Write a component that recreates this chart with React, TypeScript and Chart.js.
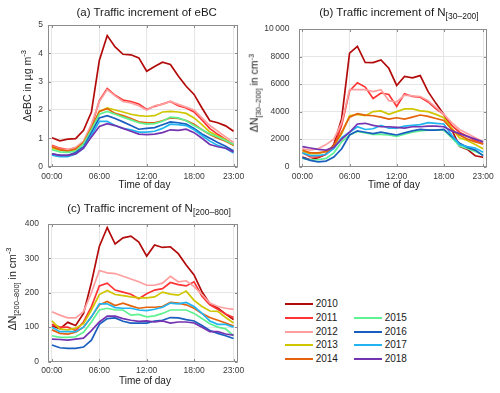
import React, { useEffect, useRef } from "react";
import { Chart, registerables } from "chart.js";

Chart.register(...registerables);

// ---------- data ----------
const HOURS = [0, 1, 2, 3, 4, 5, 6, 7, 8, 9, 10, 11, 12, 13, 14, 15, 16, 17, 18, 19, 20, 21, 22, 23];
const X_TICKS = [0, 6, 12, 18, 23];
const YEARS = ["2010", "2011", "2012", "2013", "2014", "2015", "2016", "2017", "2018"];
const COLORS = ["#b30a0a", "#ff3333", "#ff9e9e", "#cfc600", "#e4630c", "#5ef291", "#1a5fbf", "#22b4f0", "#7433b0"];

// (a) eBC, µg m-3
const EBC_2010 = [1.02, 0.91, 0.97, 0.99, 1.28, 1.93, 3.75, 4.63, 4.23, 3.97, 3.95, 3.84, 3.37, 3.54, 3.69, 3.61, 3.2, 2.84, 2.55, 2.07, 1.62, 1.55, 1.44, 1.25];
const EBC_2011 = [0.75, 0.65, 0.6, 0.65, 0.85, 1.4, 2.33, 2.76, 2.52, 2.35, 2.3, 2.21, 2.02, 2.13, 2.21, 2.3, 2.15, 2.07, 1.93, 1.65, 1.34, 1.14, 0.96, 0.77];
const EBC_2012 = [0.72, 0.62, 0.6, 0.68, 0.9, 1.5, 2.3, 2.72, 2.5, 2.3, 2.25, 2.15, 2.0, 2.15, 2.2, 2.3, 2.2, 2.1, 2.0, 1.72, 1.45, 1.25, 1.05, 0.85];
const EBC_2013 = [0.65, 0.58, 0.55, 0.6, 0.85, 1.35, 1.95, 2.07, 2.0, 1.93, 1.85, 1.8, 1.78, 1.8, 1.93, 1.95, 1.93, 1.88, 1.72, 1.48, 1.22, 1.08, 0.95, 0.75];
const EBC_2014 = [0.7, 0.6, 0.55, 0.62, 0.85, 1.35, 1.95, 2.05, 1.88, 1.8, 1.7, 1.58, 1.55, 1.55, 1.62, 1.72, 1.7, 1.63, 1.5, 1.3, 1.13, 1.0, 0.9, 0.75];
const EBC_2015 = [0.6, 0.52, 0.5, 0.55, 0.8, 1.3, 1.85, 1.95, 1.85, 1.75, 1.65, 1.55, 1.5, 1.52, 1.6, 1.75, 1.72, 1.62, 1.45, 1.3, 1.15, 1.05, 0.92, 0.78];
const EBC_2016 = [0.45, 0.4, 0.4, 0.5, 0.7, 1.2, 1.72, 1.8, 1.7, 1.58, 1.45, 1.32, 1.35, 1.38, 1.48, 1.58, 1.55, 1.5, 1.35, 1.15, 1.0, 0.85, 0.72, 0.55];
const EBC_2017 = [0.4, 0.35, 0.35, 0.45, 0.65, 1.1, 1.6, 1.6, 1.45, 1.35, 1.3, 1.22, 1.22, 1.25, 1.35, 1.5, 1.48, 1.45, 1.3, 1.1, 0.9, 0.75, 0.65, 0.48];
const EBC_2018 = [0.45, 0.4, 0.4, 0.45, 0.65, 1.05, 1.42, 1.52, 1.45, 1.35, 1.25, 1.15, 1.13, 1.15, 1.2, 1.3, 1.28, 1.32, 1.2, 1.0, 0.78, 0.7, 0.65, 0.52];

// (b) N[30-200], cm-3
const N30_2010 = [700, 500, 650, 900, 1600, 3500, 8250, 8750, 7570, 7560, 7750, 7150, 5900, 6550, 6450, 6620, 5450, 4600, 3800, 2700, 1470, 1250, 790, 680];
const N30_2011 = [1000, 700, 700, 900, 1400, 3000, 5500, 6100, 5780, 4950, 5350, 5250, 4370, 5300, 5100, 5050, 4700, 4200, 3800, 3000, 2500, 2200, 1900, 1650];
const N30_2012 = [1300, 1200, 1300, 1600, 2000, 3200, 5600, 5600, 5600, 5450, 5600, 4800, 4700, 5200, 5150, 5100, 4800, 4300, 3800, 3200, 2700, 2400, 2100, 1800];
const N30_2013 = [1100, 950, 950, 1100, 1500, 2400, 3700, 3800, 3700, 4000, 4050, 3800, 4000, 4200, 4200, 4050, 4000, 3800, 3550, 2800, 2100, 1900, 1600, 1300];
const N30_2014 = [1200, 1000, 1000, 1100, 1500, 2500, 3600, 3850, 3750, 3700, 3600, 3450, 3550, 3450, 3600, 3750, 3650, 3500, 3350, 2700, 2300, 2000, 1800, 1650];
const N30_2015 = [600, 500, 500, 600, 1000, 1800, 2300, 2550, 2450, 2350, 2350, 2300, 2200, 2350, 2500, 2600, 2650, 2650, 2650, 2100, 1500, 1300, 1100, 850];
const N30_2016 = [650, 450, 350, 400, 700, 1300, 2300, 2600, 2500, 2400, 2500, 2400, 2300, 2450, 2600, 2700, 2650, 2650, 2700, 2200, 1700, 1400, 1200, 800];
const N30_2017 = [1000, 800, 800, 900, 1300, 2100, 2500, 2900, 2700, 2750, 3000, 2800, 2800, 2950, 3000, 3050, 3200, 3150, 3100, 2300, 1600, 1450, 1350, 1050];
const N30_2018 = [1450, 1350, 1250, 1200, 1400, 2000, 2500, 3100, 3150, 3000, 2900, 2900, 2850, 2800, 2900, 2900, 2950, 2950, 2900, 2600, 2400, 2200, 2000, 1800];

// (c) N[200-800], cm-3
const N200_2010 = [104, 95, 114, 105, 140, 230, 335, 390, 342, 360, 365, 348, 307, 339, 332, 334, 314, 281, 252, 203, 168, 156, 138, 122];
const N200_2011 = [108, 100, 100, 90, 115, 160, 220, 228, 208, 202, 196, 183, 197, 208, 212, 230, 224, 220, 232, 190, 165, 152, 138, 128];
const N200_2012 = [145, 135, 127, 127, 145, 200, 265, 258, 256, 248, 240, 232, 222, 222, 228, 248, 232, 235, 218, 195, 170, 160, 155, 152];
const N200_2013 = [118, 95, 92, 97, 110, 150, 195, 207, 195, 192, 188, 185, 185, 188, 202, 196, 193, 205, 178, 160, 147, 146, 128, 112];
const N200_2014 = [92, 82, 80, 85, 100, 130, 165, 175, 163, 170, 162, 155, 158, 158, 160, 172, 170, 165, 155, 140, 128, 120, 112, 103];
const N200_2015 = [75, 70, 70, 72, 85, 115, 150, 155, 150, 150, 135, 137, 130, 133, 140, 150, 150, 150, 140, 125, 110, 100, 95, 75];
const N200_2016 = [48, 40, 38, 38, 42, 62, 108, 125, 127, 117, 112, 112, 112, 118, 120, 128, 127, 122, 118, 105, 90, 82, 75, 67];
const N200_2017 = [100, 87, 87, 87, 100, 130, 168, 168, 157, 155, 155, 150, 148, 152, 158, 170, 168, 172, 160, 140, 118, 108, 108, 100];
const N200_2018 = [65, 64, 62, 65, 68, 90, 115, 132, 132, 125, 120, 117, 118, 115, 118, 112, 115, 115, 112, 100, 87, 87, 80, 77];

const EBC_SERIES = [EBC_2010, EBC_2011, EBC_2012, EBC_2013, EBC_2014, EBC_2015, EBC_2016, EBC_2017, EBC_2018];
const N30_SERIES = [N30_2010, N30_2011, N30_2012, N30_2013, N30_2014, N30_2015, N30_2016, N30_2017, N30_2018];
const N200_SERIES = [N200_2010, N200_2011, N200_2012, N200_2013, N200_2014, N200_2015, N200_2016, N200_2017, N200_2018];

// ---------- styling ----------
const FONT = "'Liberation Sans', Arial, Helvetica, sans-serif";
const TICK_FAMILY = "'Liberation Sans Narrow', 'Liberation Sans', Arial, sans-serif";
const TICK_COLOR = "#3a3a3a";
const GRID_COLOR = "#e6e6e6";
const BOX_COLOR = "#8c8c8c";

const boxPlugin = {
  id: "axesBox",
  afterDatasetsDraw(chart: any) {
    const { ctx, chartArea: a, scales } = chart;
    ctx.save();
    ctx.strokeStyle = BOX_COLOR;
    ctx.lineWidth = 1;
    const l = Math.round(a.left) + 0.5;
    const r = Math.round(a.right) - 0.5;
    const t = Math.round(a.top) + 0.5;
    const b = Math.round(a.bottom) - 0.5;
    ctx.strokeRect(l, t, r - l, b - t);
    const tl = 2.5;
    ctx.beginPath();
    scales.x.ticks.forEach((tk: any) => {
      const px = Math.round(scales.x.getPixelForValue(tk.value)) + 0.5;
      ctx.moveTo(px, b);
      ctx.lineTo(px, b - tl);
      ctx.moveTo(px, t);
      ctx.lineTo(px, t + tl);
    });
    scales.y.ticks.forEach((tk: any) => {
      const py = Math.round(scales.y.getPixelForValue(tk.value)) + 0.5;
      ctx.moveTo(l, py);
      ctx.lineTo(l + tl, py);
      ctx.moveTo(r, py);
      ctx.lineTo(r - tl, py);
    });
    ctx.stroke();
    ctx.restore();
  },
};

const hourLabel = (v: number) => (v < 10 ? "0" + v : String(v)) + ":00";

type PanelProps = {
  left: number;
  top: number;
  width: number;
  height: number;
  padTop: number;
  padRight: number;
  yAxisWidth: number;
  xAxisHeight: number;
  yMax: number;
  yStep: number;
  yTickPad: number;
  series: number[][];
  yFormat: (v: number) => string;
};

function Panel(p: PanelProps) {
  const ref = useRef<HTMLCanvasElement>(null);
  useEffect(() => {
    const chart = new Chart(ref.current as HTMLCanvasElement, {
      type: "line",
      data: {
        datasets: YEARS.map((yr, i) => ({
          label: yr,
          data: HOURS.map((h, j) => ({ x: h, y: p.series[i][j] })),
          borderColor: COLORS[i],
          backgroundColor: COLORS[i],
          borderWidth: 1.7,
          pointRadius: 0,
          fill: false,
          tension: 0,
          order: -i,
        })),
      },
      options: {
        animation: false,
        responsive: false,
        maintainAspectRatio: false,
        layout: { padding: { left: 0, right: p.padRight, top: p.padTop, bottom: 0 } },
        plugins: {
          legend: { display: false },
          tooltip: { enabled: false },
          title: { display: false },
        },
        scales: {
          x: {
            type: "linear",
            min: -0.5,
            max: 23.5,
            afterBuildTicks: (s: any) => {
              s.ticks = X_TICKS.map((v) => ({ value: v }));
            },
            afterFit: (s: any) => {
              s.height = p.xAxisHeight;
            },
            ticks: {
              callback: (v: any) => hourLabel(Number(v)),
              font: { family: TICK_FAMILY, size: 8.5 },
              color: TICK_COLOR,
              padding: 4.5,
              maxRotation: 0,
              autoSkip: false,
            },
            grid: { color: GRID_COLOR, drawTicks: false, lineWidth: 1 },
            border: { display: false },
          },
          y: {
            type: "linear",
            min: 0,
            max: p.yMax,
            afterFit: (s: any) => {
              s.width = p.yAxisWidth;
            },
            ticks: {
              stepSize: p.yStep,
              callback: (v: any) => p.yFormat(Number(v)),
              font: { family: TICK_FAMILY, size: 8.5 },
              color: TICK_COLOR,
              padding: p.yTickPad,
            },
            grid: { color: GRID_COLOR, drawTicks: false, lineWidth: 1 },
            border: { display: false },
          },
        },
      },
      plugins: [boxPlugin],
    } as any);
    return () => chart.destroy();
  }, []);
  return (
    <canvas
      ref={ref}
      width={p.width}
      height={p.height}
      style={{ position: "absolute", left: p.left, top: p.top, width: p.width, height: p.height }}
    />
  );
}

function Centered({ cx, top, size, children }: { cx: number; top: number; size: number; children: any }) {
  return (
    <div
      style={{
        position: "absolute",
        left: cx,
        top,
        transform: "translateX(-50%)",
        whiteSpace: "nowrap",
        fontSize: size,
        lineHeight: 1,
        fontFamily: FONT,
        color: "#1a1a1a",
      }}
    >
      {children}
    </div>
  );
}

function YLabel({ cx, cy, children }: { cx: number; cy: number; children: any }) {
  return (
    <div style={{ position: "absolute", left: cx, top: cy, width: 0, height: 0 }}>
      <div
        style={{
          position: "absolute",
          left: 0,
          top: 0,
          transform: "translate(-50%, -50%) rotate(-90deg)",
          whiteSpace: "nowrap",
          fontSize: 10.5,
          lineHeight: 1,
          fontFamily: FONT,
          color: "#1a1a1a",
        }}
      >
        {children}
      </div>
    </div>
  );
}

const supStyle = { fontSize: 7.5, verticalAlign: "super", lineHeight: 0 } as const;
const subStyle = { fontSize: 7.5, verticalAlign: "sub", lineHeight: 0 } as const;
const titleSub = { fontSize: 8.5, verticalAlign: "sub", lineHeight: 0 } as const;

const LEGEND_POS = [
  { x: 285, y: 304 },
  { x: 285, y: 318 },
  { x: 285, y: 331.5 },
  { x: 285, y: 345 },
  { x: 285, y: 358.7 },
  { x: 354, y: 318 },
  { x: 354, y: 331.5 },
  { x: 354, y: 345 },
  { x: 354, y: 358.7 },
];

const fmtThousands = (v: number) => (v >= 10000 ? String(v).replace(/\B(?=(\d{3})+(?!\d))/g, "\u2009") : String(v));

export default function App() {
  return (
    <div style={{ position: "absolute", left: 0, top: 0, width: 500, height: 393, background: "#ffffff", overflow: "hidden" }}>
      <Panel
        left={0}
        top={15}
        width={250}
        height={180}
        padTop={7}
        padRight={12.5}
        yAxisWidth={48}
        xAxisHeight={28.4}
        yMax={5}
        yStep={1}
        yTickPad={5}
        series={EBC_SERIES}
        yFormat={(v) => String(v)}
      />
      <Panel
        left={250}
        top={15}
        width={250}
        height={180}
        padTop={7}
        padRight={13}
        yAxisWidth={48.5}
        xAxisHeight={28.4}
        yMax={10000}
        yStep={2000}
        yTickPad={9}
        series={N30_SERIES}
        yFormat={fmtThousands}
      />
      <Panel
        left={0}
        top={210}
        width={250}
        height={183}
        padTop={7.5}
        padRight={12.5}
        yAxisWidth={48}
        xAxisHeight={31.5}
        yMax={400}
        yStep={100}
        yTickPad={9}
        series={N200_SERIES}
        yFormat={(v) => String(v)}
      />

      <Centered cx={146.7} top={7.4} size={11.5}>(a) Traffic increment of eBC</Centered>
      <Centered cx={399} top={7.4} size={11.5}>
        (b) Traffic increment of N<span style={titleSub}>[30–200]</span>
      </Centered>
      <Centered cx={149} top={203} size={11.5}>
        (c) Traffic increment of N<span style={titleSub}>[200–800]</span>
      </Centered>

      <Centered cx={144.5} top={180} size={10}>Time of day</Centered>
      <Centered cx={394} top={180} size={10}>Time of day</Centered>
      <Centered cx={145} top={375.5} size={10}>Time of day</Centered>

      <YLabel cx={26.7} cy={86}>
        ΔeBC in µg m<span style={supStyle}>-3</span>
      </YLabel>
      <YLabel cx={254} cy={93}>
        ΔN<span style={subStyle}>[30–200]</span> in cm<span style={supStyle}>-3</span>
      </YLabel>
      <YLabel cx={11.5} cy={289}>
        ΔN<span style={subStyle}>[200–800]</span> in cm<span style={supStyle}>-3</span>
      </YLabel>

      {YEARS.map((yr, i) => (
        <div
          key={yr}
          style={{
            position: "absolute",
            left: LEGEND_POS[i].x,
            top: LEGEND_POS[i].y - 6,
            height: 12,
            display: "flex",
            alignItems: "center",
            fontFamily: FONT,
            fontSize: 10,
            lineHeight: "12px",
            color: "#1a1a1a",
            whiteSpace: "nowrap",
          }}
        >
          <div style={{ width: 27.7, height: 2, background: COLORS[i], marginRight: 3 }} />
          <span>{yr}</span>
        </div>
      ))}
    </div>
  );
}
